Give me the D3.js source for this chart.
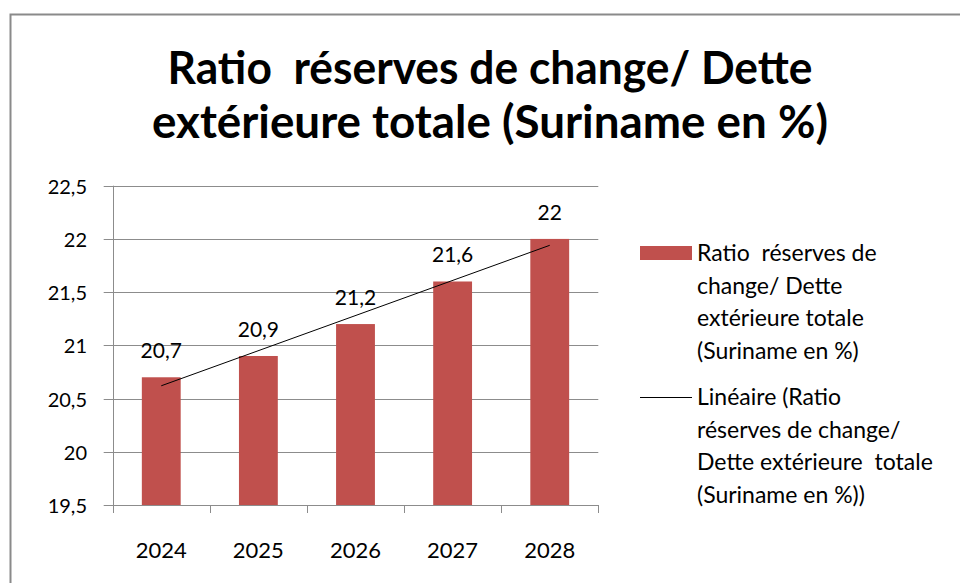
<!DOCTYPE html>
<html>
<head>
<meta charset="utf-8">
<script src="https://cdn.jsdelivr.net/npm/d3@7"></script>
<style>
  body { margin: 0; background: #fff; }
  text { font-family: Lato, "Open Sans", sans-serif; fill: #000; white-space: pre; }
</style>
</head>
<body>
<div id="chart"></div>
<script>
// Data
var years = ['2024', '2025', '2026', '2027', '2028'];
var ratio = [20.7, 20.9, 21.2, 21.6, 22];
var yTicks = [19.5, 20, 20.5, 21, 21.5, 22, 22.5];
var titleLines = ['Ratio  réserves de change/ Dette', 'extérieure totale (Suriname en %)'];
var legendBar = ['Ratio  réserves de', 'change/ Dette', 'extérieure totale', '(Suriname en %)'];
var legendLine = ['Linéaire (Ratio', 'réserves de change/', 'Dette extérieure  totale', '(Suriname en %))'];

var svgWidth = 960, svgHeight = 583;
var svg = d3.select('#chart').append('svg')
    .attr('width', svgWidth)
    .attr('height', svgHeight);

// frame
svg.append('rect')
    .attr('x', 10.5).attr('y', 14.5)
    .attr('width', 1000).attr('height', 700)
    .attr('fill', 'none')
    .attr('stroke', '#8a8a8a')
    .attr('stroke-width', 2);

// Title
var titleW = [645, 676];
svg.selectAll('.title')
    .data(titleLines)
    .enter().append('text')
    .attr('class', 'title')
    .attr('x', 490)
    .attr('y', function(d, i) { return 84 + i * 54; })
    .attr('text-anchor', 'middle')
    .attr('textLength', function(d, i) { return titleW[i]; })
    .attr('lengthAdjust', 'spacingAndGlyphs')
    .style('font-size', '45px')
    .style('font-weight', 'bold')
    .text(function(d) { return d; });

// plot area
var pLeft = 112.7, pRight = 598.3, pTop = 185.7, pBottom = 505;

var x = d3.scaleBand()
    .domain(years)
    .range([pLeft, pRight])
    .paddingInner(0.6)
    .paddingOuter(0.3);

var xPos = d3.scalePoint()
    .domain(years)
    .range([pLeft, pRight])
    .padding(0.5);

var y = d3.scaleLinear()
    .domain([19.5, 22.5])
    .range([pBottom, pTop]);

// gridlines
svg.append('g')
    .selectAll('line')
    .data(yTicks)
    .enter().append('line')
    .attr('x1', pLeft - 9).attr('x2', pRight)
    .attr('y1', function(d) { return Math.round(y(d)) + 0.5; })
    .attr('y2', function(d) { return Math.round(y(d)) + 0.5; })
    .attr('stroke', '#8c8c8c')
    .attr('stroke-width', 1);

// y axis line
svg.append('line')
    .attr('x1', Math.round(pLeft) + 0.5).attr('x2', Math.round(pLeft) + 0.5)
    .attr('y1', pTop).attr('y2', pBottom + 8)
    .attr('stroke', '#8c8c8c');

// x ticks between categories
var step = (pRight - pLeft) / years.length;
svg.append('g')
    .selectAll('line')
    .data(d3.range(years.length + 1))
    .enter().append('line')
    .attr('x1', function(d) { return Math.round(pLeft + d * step) + 0.5; })
    .attr('x2', function(d) { return Math.round(pLeft + d * step) + 0.5; })
    .attr('y1', pBottom).attr('y2', pBottom + 8)
    .attr('stroke', '#8c8c8c');

// y labels
svg.append('g')
    .selectAll('text')
    .data(yTicks)
    .enter().append('text')
    .attr('x', 87)
    .attr('y', function(d) { return y(d) + 8; })
    .attr('text-anchor', 'end')
    .style('font-size', '20px')
    .text(function(d) { return String(d).replace('.', ','); });

// x labels
svg.append('g')
    .selectAll('text')
    .data(years)
    .enter().append('text')
    .attr('x', function(d) { return xPos(d); })
    .attr('y', 558)
    .attr('text-anchor', 'middle')
    .style('font-size', '22px')
    .text(function(d) { return d; });

// bars
svg.append('g')
    .selectAll('rect')
    .data(ratio)
    .enter().append('rect')
    .attr('x', function(d, i) { return x(years[i]); })
    .attr('width', x.bandwidth())
    .attr('y', function(d) { return y(d); })
    .attr('height', function(d) { return pBottom - y(d); })
    .attr('fill', '#c0504d');

// data labels
svg.append('g')
    .selectAll('text')
    .data(ratio)
    .enter().append('text')
    .attr('x', function(d, i) { return xPos(years[i]); })
    .attr('y', function(d) { return y(d) - 19; })
    .attr('text-anchor', 'middle')
    .style('font-size', '21px')
    .text(function(d) { return String(d).replace('.', ','); });

// linear trend (least squares)
var n = ratio.length;
var mx = d3.mean(d3.range(n));
var my = d3.mean(ratio);
var slope = d3.sum(ratio, function(d, i) { return (i - mx) * (d - my); }) /
            d3.sum(d3.range(n), function(i) { return (i - mx) * (i - mx); });
var icpt = my - slope * mx;

svg.append('line')
    .attr('x1', xPos(years[0])).attr('y1', y(icpt))
    .attr('x2', xPos(years[n - 1])).attr('y2', y(icpt + slope * (n - 1)))
    .attr('stroke', '#000')
    .attr('stroke-width', 1);

// Legend
var lg = svg.append('g');
lg.append('rect')
    .attr('x', 640).attr('y', 246)
    .attr('width', 52).attr('height', 14)
    .attr('fill', '#c0504d');
lg.selectAll('.lb')
    .data(legendBar)
    .enter().append('text')
    .attr('class', 'lb')
    .attr('x', 697)
    .attr('y', function(d, i) { return 261 + i * 32.5; })
    .style('font-size', '23px')
    .text(function(d) { return d; });

lg.append('line')
    .attr('x1', 640).attr('x2', 692)
    .attr('y1', 397.5).attr('y2', 397.5)
    .attr('stroke', '#000');
lg.selectAll('.ll')
    .data(legendLine)
    .enter().append('text')
    .attr('class', 'll')
    .attr('x', 697)
    .attr('y', function(d, i) { return 405 + i * 32.5; })
    .style('font-size', '23px')
    .text(function(d) { return d; });
</script>
</body>
</html>
